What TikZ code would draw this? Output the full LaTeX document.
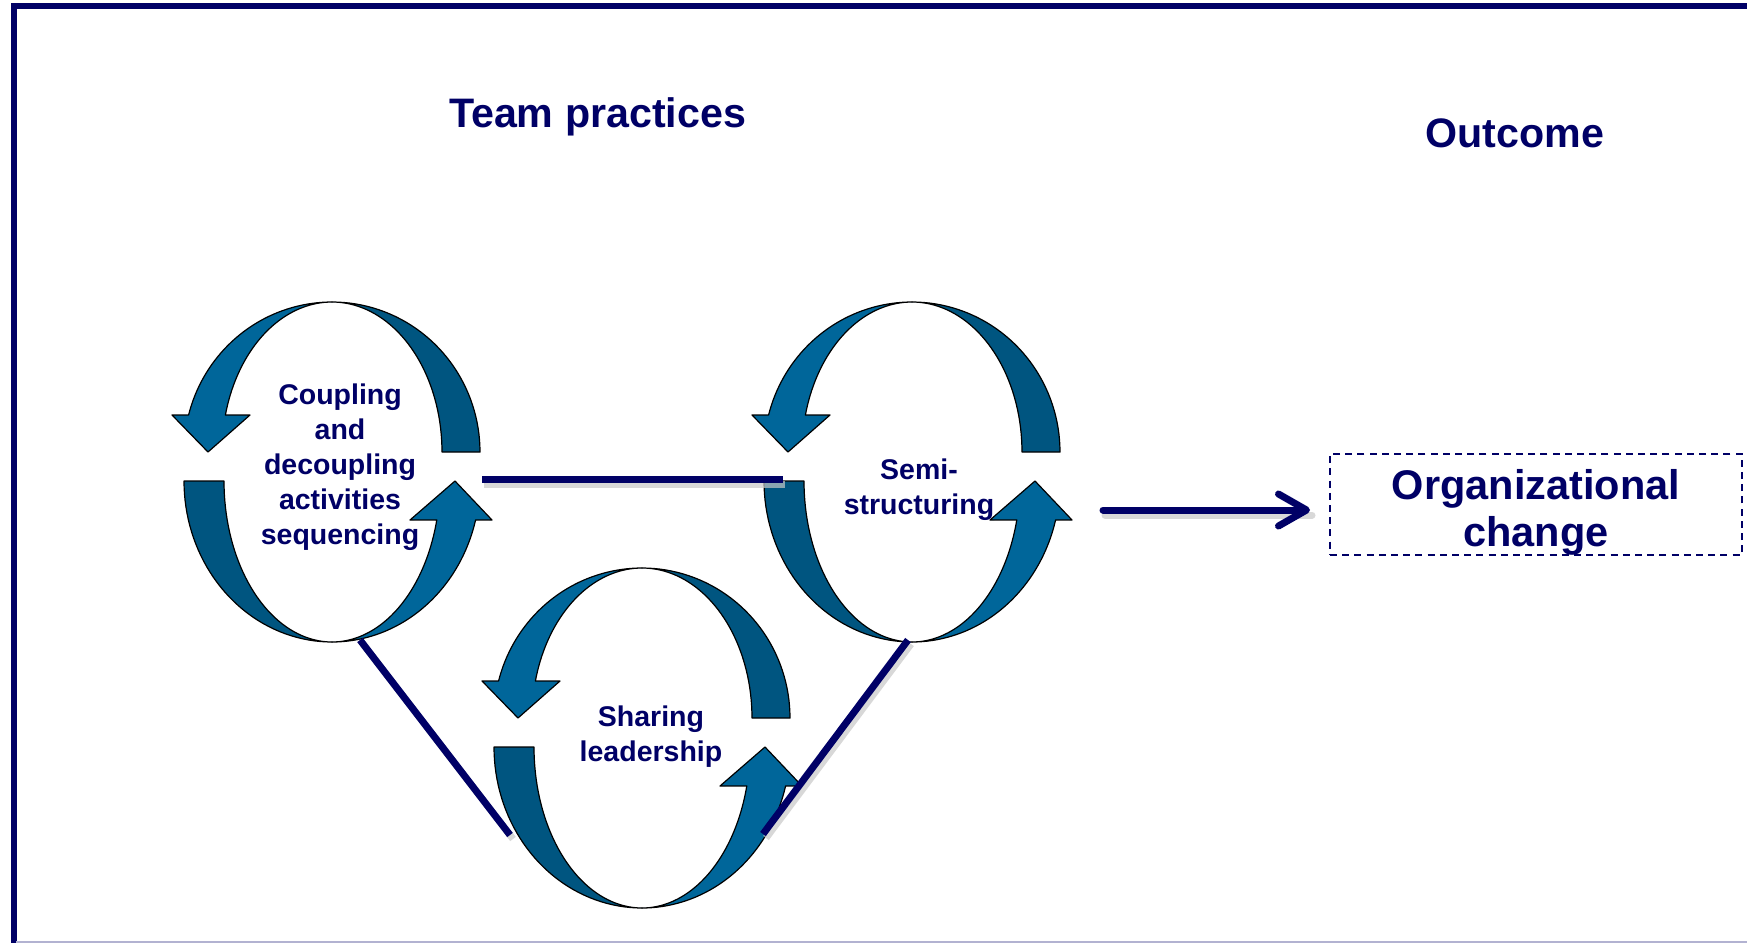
\documentclass[tikz,border=0pt]{standalone}
\usepackage{fontspec}
\setmainfont{Liberation Sans}
\usetikzlibrary{arrows.meta}
\definecolor{navy}{RGB}{0,0,102}
\definecolor{bandlight}{RGB}{0,102,154}
\definecolor{banddark}{RGB}{0,85,128}
\tikzset{
  band/.style={draw=black, line width=0.6pt, line join=round},
  link/.style={navy, line width=3.5pt},
  linkshadow/.style={black!22, line width=3.5pt, opacity=0.7},
  cyclabel/.style={text=navy, font=\fontsize{14.25}{17.5}\selectfont\bfseries, align=center, inner sep=0pt},
  headlabel/.style={text=navy, font=\fontsize{20.6}{24}\selectfont\bfseries, inner sep=0pt},
}
% #1 = centre x, #2 = centre y of upper half, #3 = centre y of lower half
\newcommand{\cyclepair}[3]{%
  \path[band, fill=banddark]
    plot[domain=0:90, samples=40] ({#1+148*cos(\x)},{#2-150*sin(\x)})
    -- plot[domain=90:0, samples=40] ({#1+110*cos(\x)},{#2-150*sin(\x)}) -- cycle;
  \path[band, fill=banddark]
    plot[domain=180:270, samples=40] ({#1+148*cos(\x)},{#3-161*sin(\x)})
    -- plot[domain=270:180, samples=40] ({#1+108*cos(\x)},{#3-161*sin(\x)}) -- cycle;
  \path[band, fill=bandlight]
    plot[domain=90:165.72, samples=40] ({#1+148*cos(\x)},{#2-150*sin(\x)})
    -- ({#1-160},{#2-37}) -- ({#1-124},{#2}) -- ({#1-82},{#2-37})
    -- plot[domain=165.72:90, samples=40] ({#1+110*cos(\x)},{#2-150*sin(\x)}) -- cycle;
  \path[band, fill=bandlight]
    plot[domain=270:346, samples=40] ({#1+148*cos(\x)},{#3-161*sin(\x)})
    -- ({#1+160},{#3+39}) -- ({#1+123},{#3}) -- ({#1+78},{#3+39})
    -- plot[domain=346:270, samples=40] ({#1+108*cos(\x)},{#3-161*sin(\x)}) -- cycle;
}
\begin{document}
\begin{tikzpicture}[x=0.5pt,y=-0.5pt]
\useasboundingbox (0,0) rectangle (1747,943);
% frame
\draw[navy, line width=3pt] (1760,6.3) -- (13.5,6.3) -- (13.5,950);
\draw[navy!30, line width=0.8pt] (16,942) -- (1747,942);

% cycles
\cyclepair{332}{452}{481}
\cyclepair{912}{452}{481}
\cyclepair{642}{718}{747}

% connector end points
\coordinate (c1r) at (482,479.5);
\coordinate (c2l) at (783,479.5);
\coordinate (c1b) at (360,640);
\coordinate (c3l) at (510,835);
\coordinate (c2b) at (908,640);
\coordinate (c3r) at (763,834);
\coordinate (arrS) at (1103,510);
\coordinate (arrE) at (1310,510);

% shadows
\draw[linkshadow] ([shift={(2,5)}]c1r) -- ([shift={(2,5)}]c2l);
\draw[linkshadow] ([shift={(3,4)}]c1b) -- ([shift={(3,4)}]c3l);
\draw[linkshadow] ([shift={(3,4)}]c2b) -- ([shift={(3,4)}]c3r);
\draw[linkshadow, line cap=round] ([shift={(2,5)}]arrS) -- ([shift={(2,5)}]arrE);
% links
\draw[link] (c1r) -- (c2l);
\draw[link] (c1b) -- (c3l);
\draw[link] (c2b) -- (c3r);

% labels
\node[headlabel, anchor=base] (team) at (597.5,127) {Team practices};
\node[headlabel, anchor=base] (outc) at (1515,147) {Outcome};
\node[cyclabel] (coup) at (340,467) {Coupling\\and\\decoupling\\activities\\sequencing};
\node[cyclabel] (semi) at (919,490) {Semi-\\structuring};
\node[cyclabel] (share) at (651,737) {Sharing\\leadership};

% outcome box
\node[draw=navy, dashed, dash pattern=on 3.5pt off 2.6pt, line width=1pt,
      minimum width=206pt, minimum height=50.5pt, inner sep=0pt] (box) at (1536,504.5) {};
\node[text=navy, font=\fontsize{20.75}{23.5}\selectfont\bfseries, align=center, inner sep=0pt]
      (oc) at (1536,512) {Organizational\\change};

\draw[link, line cap=round, -{Straight Barb[length=14pt,width=16pt,line cap=round,line join=round]}] (arrS) -- (arrE);
\end{tikzpicture}
\end{document}
